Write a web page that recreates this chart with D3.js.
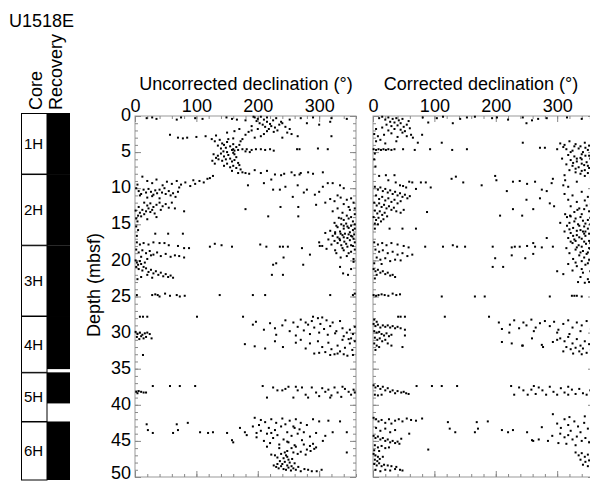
<!DOCTYPE html>
<html><head><meta charset="utf-8">
<script src="https://cdn.jsdelivr.net/npm/d3@7"></script>
<style>body{margin:0;background:#fff}svg{display:block}text{font-family:"Liberation Sans",Arial,sans-serif}</style>
</head><body><svg id="c" width="590" height="483"></svg>
<script>
const holeName = "U1518E";
const coreNames = ["1H","2H","3H","4H","5H","6H"];
const coreTop = [0, 8.45, 18.3, 28.1, 35.9, 42.7];
const coreBottom = [8.45, 18.3, 28.1, 35.9, 42.7, 50.8];
const recoveryTop = [0, 8.45, 18.3, 28.1, 35.9, 42.7];
const recoveryBottom = [8.45, 18.3, 28.1, 35.45, 40.2, 50.8];
const decTicks = [0,100,200,300];
const depthTicks = [0,5,10,15,20,25,30,35,40,45,50];

// [declination, depth]
const uncorrected = [
[19,0.3],[35,0.4],[68,0.5],[75,0.2],[98,0.3],[149,0.2],[158,0.4],[166,0.5],[180,0.6],[193,0.1],[215,0.2],[252,0.5],[270,0.3],[290,0.2],[320,0.3],[345,0.4],[28,0.2],[110,0.4],
[195,0.2],[200,0.4],[205,0.1],[198,0.7],[210,0.5],[215,0.8],[203,1.0],[208,1.2],[220,1.1],[225,0.6],[230,0.3],[212,1.5],[218,1.8],[222,1.4],[228,1.6],[235,1.2],[240,1.0],[232,2.0],[226,2.2],[215,2.1],[245,1.5],[238,0.8],[200,1.8],[190,1.4],[248,2.3],[252,1.8],[210,2.5],
[150,2.3],[162,2.1],[170,1.8],[180,2.6],[185,2.2],[195,3.0],[205,2.8],[175,3.2],[160,3.1],[240,3.0],[265,2.8],[280,1.0],[300,1.2],[318,0.8],[320,2.8],[255,2.5],[190,2.0],
[57,2.6],[70,3.0],[78,3.1],[85,3.0],[100,2.9],[115,2.8],[125,3.2],[132,2.7],
[130,3.5],[138,3.3],[142,3.8],[145,4.0],[150,3.6],[155,4.2],[148,4.4],[160,3.9],[165,4.3],[140,4.5],[135,4.1],[158,4.7],[170,4.0],[172,3.5],[152,3.2],[162,4.8],[144,4.9],
[160,4.6],[168,4.7],[175,4.6],[182,4.6],[190,4.7],[197,4.6],[205,4.6],[212,4.7],[220,4.6],[226,4.8],[264,4.6],[268,4.6],[298,4.5],[314,4.6],[180,4.9],[187,5.0],
[128,5.3],[132,5.8],[135,5.5],[140,5.2],[145,5.6],[148,6.0],[152,5.4],[155,5.9],[158,6.3],[162,6.1],[165,5.7],[168,6.5],[150,6.6],[142,6.2],[136,6.0],[126,6.2],[130,6.6],[160,6.9],[165,7.2],[170,6.8],[172,7.4],[158,7.6],[175,7.8],[168,7.9],[150,5.0],[160,5.1],[145,6.9],[155,7.1],[162,5.3],
[180,7.9],[186,8.0],[195,7.5],[205,7.9],[215,7.6],[222,8.8],[228,8.1],[238,8.2],[243,8.0],[255,7.8],[260,8.2],[268,8.1],[270,7.9],[282,7.8],[290,8.0],[306,7.8],
[12,8.4],[20,9.0],[28,9.3],[35,8.8],[45,9.6],[52,9.1],[60,9.4],[68,9.0],[75,9.5],[82,9.2],[90,9.7],[98,9.4],[105,9.0],[112,9.2],[118,8.7],[122,8.6],[127,8.3],[95,8.9],
[184,9.6],[225,10.2],[236,10.2],[257,11.2],[265,9.6],[280,10.2],[293,10.9],[306,9.8],[314,9.3],[322,9.3],[334,9.6],[340,10.0],[210,9.3],[245,9.8],[275,10.6],[300,10.5],[330,11.0],
[2,10.0],[6,10.4],[10,10.8],[14,10.2],[18,10.6],[22,10.1],[26,10.5],[30,10.9],[33,10.3],[36,10.7],[40,10.2],[44,10.6],[48,10.0],[50,10.8],[55,10.4],[58,11.0],[62,10.7],[66,11.2],[70,10.5],[20,11.3],[28,11.1],[40,11.4],[8,11.0],[72,9.9],[4,9.5],
[15,12.0],[20,12.4],[25,12.1],[30,12.6],[35,12.3],[40,12.0],[45,12.5],[50,12.2],[55,12.7],[22,12.8],[18,13.2],[12,13.0],[8,13.4],[5,13.8],[2,14.2],[10,13.9],[15,13.6],[25,13.3],[28,13.0],[32,13.5],[4,14.6],[1,13.1],[6,12.6],[60,12.0],[65,12.8],[35,14.0],[20,14.3],[42,13.0],
[217,13.9],[237,12.6],[266,12.6],[266,13.9],[295,12.3],[80,13.2],[310,12.0],[180,12.9],
[318,11.5],[325,11.8],[335,11.3],[345,11.6],[352,11.4],[340,12.2],[348,12.6],[356,12.0],[330,12.8],[322,13.2],[338,13.4],[350,13.0],[358,13.6],[345,13.8],[332,14.1],[340,14.4],[348,14.2],[355,14.6],[325,14.8],[336,15.0],[344,14.9],[352,15.2],[358,15.0],[330,15.4],[340,15.6],[348,15.5],[355,15.8],[318,15.9],[326,16.1],[334,16.0],[342,16.3],[350,16.1],[357,16.4],[322,16.6],[330,16.8],[338,16.5],[346,16.9],[354,16.7],[315,17.1],[325,17.3],[333,17.0],[341,17.4],[350,17.2],[358,17.5],[320,17.8],[336,17.9],[346,18.1],[355,18.0],[312,18.4],[340,18.6],[352,18.8],[328,19.0],[345,19.4],[356,19.8],[335,19.6],[358,12.8],[310,16.2],[300,17.5],[305,18.0],
[336,14.2],[352,14.0],[328,15.2],[346,15.3],[358,15.6],[335,16.3],[348,16.4],[326,16.3],[340,16.8],[356,17.0],[330,17.6],[344,17.7],[352,17.9],[338,18.3],[358,18.5],[326,18.6],[348,19.0],[340,15.2],[352,16.6],[334,17.2],
[2,15.3],[5,15.8],[3,16.6],[33,16.3],[54,16.3],[78,16.3],
[3,17.5],[8,17.8],[14,17.6],[22,17.8],[30,17.5],[40,17.6],[48,17.6],[55,17.9],[70,18.0],[80,18.3],[2,18.5],[6,18.9],[12,18.6],[18,19.0],[24,18.7],[30,19.2],[36,18.9],[42,19.4],[50,19.1],[58,19.5],[65,19.3],[72,19.4],[80,19.6],[10,19.5],[20,19.8],[26,19.3],[88,18.3],
[122,18.1],[141,17.9],[158,18.1],[204,17.8],[214,18.1],[236,18.1],[241,18.1],[249,18.1],[272,18.3],[285,19.2],[301,18.0],[130,17.7],[242,19.6],[230,20.4],
[1,20.0],[3,20.3],[5,20.6],[8,20.1],[2,20.9],[6,21.2],[10,20.5],[14,20.9],[12,21.4],[18,21.1],[22,21.6],[26,21.3],[30,21.8],[34,21.5],[38,22.0],[42,21.7],[46,22.2],[50,21.9],[54,22.3],[58,22.1],[62,22.4],[20,22.0],[10,22.3],[4,22.6],[28,22.4],[16,20.3],
[225,20.6],[241,22.0],[223,22.0],[274,20.6],[334,20.9],[339,21.8],[347,22.0],[356,20.2],[352,21.2],
[3,24.8],[28,24.8],[33,24.7],[37,24.8],[49,24.6],[57,24.9],[68,24.8],[73,25.0],[81,24.9],[138,24.8],[192,24.8],[212,24.8],[318,24.8],[355,24.8],[40,25.0],[358,24.6],
[8,27.8],[13,27.8],[20,27.8],[101,27.8],[176,27.8],
[192,28.9],[197,28.5],[210,29.6],[220,28.7],[228,29.4],[240,29.0],[245,28.3],[252,29.8],[258,28.6],[265,29.2],[270,28.2],[275,29.7],[282,28.9],[288,28.4],[292,29.3],[298,28.0],[302,28.8],[308,29.5],[312,28.3],[318,29.1],[322,28.6],[328,29.8],[334,28.4],[338,29.4],[345,30.0],[350,29.6],[355,30.2],[358,29.2],[326,30.1],[314,30.3],[300,30.0],[285,30.2],[262,30.4],[230,30.3],[305,27.9],[290,27.8],[278,28.6],[340,30.5],[352,30.8],
[1,29.9],[4,30.2],[8,30.0],[12,30.3],[16,30.1],[20,30.0],[24,30.2],[3,30.6],[7,30.9],[14,30.8],[27,30.8],[10,30.5],[18,30.6],
[179,31.6],[195,31.9],[212,32.2],[228,31.2],[241,32.0],
[262,31.4],[270,31.0],[278,32.2],[285,31.5],[292,32.9],[298,31.2],[305,32.0],[310,32.7],[315,31.4],[320,32.3],[325,33.0],[330,31.8],[334,32.6],[338,31.0],[342,32.1],[346,33.2],[350,31.5],[354,32.4],[358,31.2],[340,33.0],[355,33.1],[348,30.9],[318,33.1],[300,32.8],[330,32.9],[13,33.1],
[29,37.4],[57,37.4],[73,37.4],[98,37.4],[2,38.2],[6,38.1],[10,38.2],[14,38.3],[18,38.3],[4,38.4],
[208,37.4],[215,39.0],[225,37.6],[232,38.0],[240,38.0],[245,37.8],[250,37.5],[258,39.0],[265,38.0],[272,37.6],[278,38.6],[282,39.0],[288,37.6],[295,38.3],[300,38.8],[305,37.7],[310,38.2],[315,37.9],[320,38.7],[325,37.6],[330,38.3],[336,38.9],[342,37.8],[348,38.2],[352,38.6],[356,37.9],[358,38.3],[318,39.0],[262,37.5],[338,37.5],
[19,42.7],[21,43.5],[29,43.9],[62,43.9],[68,42.7],[70,43.5],[86,42.5],[106,43.8],[119,43.9],[127,43.8],[150,43.9],[171,43.2],[158,44.9],[160,45.2],[179,43.8],[182,44.2],[195,41.8],
[192,43.0],[198,44.5],[202,42.8],[205,43.6],[210,45.0],[212,42.4],[215,44.0],[218,43.2],[220,45.3],[222,42.0],[225,44.6],[228,43.5],[230,42.5],[232,44.2],[235,45.5],[238,43.0],[240,41.9],[242,44.8],[245,42.7],[248,43.8],[250,45.2],[252,42.2],[255,44.3],[258,43.0],[260,45.6],[262,42.0],[265,44.0],[268,43.4],[270,42.5],[272,44.9],[275,43.8],[280,42.8],[285,44.4],[290,42.0],[295,43.9],[300,42.3],[215,45.8],[235,46.0],[205,42.1],[198,43.9],[222,43.9],[260,43.2],[248,45.1],
[306,45.0],[322,43.8],[334,42.3],[345,43.8],[345,46.6],[315,42.2],[310,44.3],
[248,46.4],[255,46.0],[262,45.8],[270,46.5],[275,45.5],[280,46.2],[285,45.7],[290,45.4],[295,45.9],[265,46.8],[278,46.9],[258,46.6],[286,46.4],[292,46.1],
[222,46.9],[228,47.0],[232,47.3],[238,46.8],[242,47.4],[246,47.0],[250,47.6],[236,47.8],[240,48.2],[244,47.9],[248,48.4],[252,48.0],[256,47.5],[260,48.1],[226,48.4],[230,48.6],[234,48.8],[238,48.5],[242,48.9],[246,49.0],[250,48.7],[254,49.1],[258,48.8],[262,49.0],[266,48.6],[270,49.2],[276,48.9],[282,49.0],[288,49.2],[296,49.2],[304,49.0],[244,46.6],[232,48.2],[248,47.2],[255,48.5]
];

const corrected = [
[10,0.3],[15,0.1],[20,0.5],[25,0.2],[28,0.8],[32,0.4],[35,0.9],[38,0.3],[42,0.6],[45,1.0],[48,0.4],[22,1.2],[30,1.4],[40,1.3],[50,1.5],[55,1.2],[35,1.8],[45,1.9],[52,2.1],[60,1.7],[25,2.0],[15,1.6],[5,1.8],[2,2.5],[8,2.8],[18,2.6],[30,2.4],[40,2.9],[62,2.6],[65,3.0],[12,3.3],[55,2.8],[48,2.3],[58,0.7],
[81,0.2],[104,0.3],[114,0.1],[142,0.4],[153,0.2],[166,0.1],[194,0.3],[202,0.2],[220,0.5],[244,0.2],[259,0.6],[269,0.4],[283,0.3],[316,0.2],[340,0.4],[355,0.3],[90,0.9],[130,1.0],[250,1.0],
[80,2.6],[112,3.7],[73,3.7],[5,3.5],[20,3.8],[38,3.5],[244,3.7],[272,4.4],[280,4.4],[300,4.6],
[305,3.8],[312,4.0],[320,3.5],[330,3.9],[338,4.2],[345,3.7],[352,4.1],[358,3.4],[315,4.6],[325,4.8],[335,4.5],[342,5.0],[350,4.7],[356,5.2],[318,5.4],[328,5.6],[338,5.8],[346,5.5],[354,5.9],[322,6.1],[332,6.3],[340,6.0],[348,6.4],[356,6.2],[315,6.7],[325,6.9],[335,7.1],[344,6.8],[352,7.2],[358,7.0],[320,7.5],[330,7.8],[340,7.6],[350,7.9],[312,8.2],[345,8.3],[355,8.5],[359,6.6],[308,5.9],
[310,4.3],[328,4.2],[346,4.4],[322,5.0],[340,5.3],[352,5.5],[332,5.9],[358,5.8],[326,6.5],[340,6.6],[350,6.9],[330,7.3],[345,7.5],[356,7.7],[338,8.0],
[1,4.6],[5,4.7],[9,4.6],[13,4.7],[17,4.6],[21,4.7],[25,4.6],[30,4.7],[35,4.6],[49,4.6],[68,4.7],[93,4.6],[129,4.7],[153,4.6],[3,5.2],[2,6.0],[4,7.0],
[10,8.3],[21,8.2],[25,8.9],[35,8.2],[37,9.2],[44,9.6],[49,9.7],[54,9.9],[59,9.1],[64,9.2],[70,10.1],[78,9.2],[86,9.2],[94,9.9],[128,8.7],[135,8.4],[147,9.2],
[177,9.6],[199,8.3],[201,8.9],[218,10.4],[228,9.1],[239,9.0],[251,9.4],[264,9.1],[275,10.2],[283,10.4],[291,9.3],[293,8.7],[310,9.6],[313,8.9],[318,9.8],[332,9.1],
[3,9.8],[8,10.2],[12,9.9],[16,10.4],[20,10.1],[24,10.6],[28,10.3],[32,10.8],[36,10.5],[40,11.0],[44,10.7],[48,11.2],[52,10.9],[56,11.4],[60,11.1],[5,11.0],[10,11.5],[15,11.2],[20,11.7],[25,11.4],[30,11.9],[35,11.6],[40,12.1],[45,11.8],[2,12.0],[6,12.4],[10,12.1],[14,12.6],[18,12.3],[22,12.8],[26,12.5],[30,13.0],[34,12.7],[38,13.2],[3,13.1],[7,13.5],[11,13.2],[15,13.7],[19,13.4],[23,13.9],[1,14.0],[5,14.4],[9,14.1],[13,14.6],[17,14.3],[3,14.9],[8,15.0],[50,13.0],[45,13.4],[88,13.3],
[250,11.6],[272,11.4],[288,12.1],[207,13.8],[228,12.9],[243,13.8],[261,12.9],[305,14.8],[313,13.6],[321,13.8],[295,12.5],
[312,10.8],[325,11.0],[340,10.5],[350,11.2],[358,10.9],[318,11.6],[332,11.9],[345,11.7],[355,12.2],[322,12.5],[336,12.8],[348,12.4],[358,13.0],[328,13.3],[340,13.6],[352,13.2],[316,14.0],[330,14.2],[342,14.5],[354,14.1],[320,14.8],[334,15.0],[346,14.9],[358,15.3],[326,15.5],[338,15.8],[350,15.6],[312,16.0],[322,16.2],[332,16.5],[344,16.3],[356,16.6],[318,16.9],[328,17.1],[340,17.0],[352,17.3],[325,17.6],[335,17.9],[347,17.7],[358,18.0],[315,18.3],[330,18.5],[342,18.7],[354,18.4],[320,19.0],[336,19.3],[348,19.1],[358,19.5],[326,19.8],[340,20.1],[352,19.9],[318,20.5],[332,20.8],[346,20.6],[356,21.0],[325,21.4],[342,21.7],[354,21.5],[338,22.3],[350,22.6],[358,22.0],[300,21.5],[310,21.9],[334,23.0],[345,23.1],[352,23.0],[336,15.2],[346,16.0],[330,17.3],[340,18.1],[350,18.9],[326,16.6],
[322,13.9],[338,14.0],[350,14.4],[356,13.8],[328,14.6],[344,15.3],[354,15.0],[320,15.7],[332,15.9],[342,16.0],[352,16.3],[358,16.0],[336,16.8],[346,16.6],[322,17.4],[344,17.4],[354,17.6],[332,18.2],[352,18.3],[338,18.9],[358,18.8],[344,19.6],[330,20.3],[350,20.4],[359,17.0],[359,15.6],[340,21.2],[333,13.0],[344,12.9],[316,15.2],
[3,15.6],[27,15.6],[48,15.6],[70,15.6],
[2,17.5],[8,17.8],[15,17.6],[22,17.9],[30,17.6],[40,17.8],[50,18.0],[58,18.2],[4,18.5],[10,18.8],[16,18.6],[24,19.0],[32,18.8],[40,19.2],[48,19.0],[56,19.4],[64,19.2],[6,19.6],[12,19.9],[20,19.7],[28,20.1],[36,19.9],[2,20.4],[14,20.5],[45,20.0],
[85,18.1],[114,18.1],[130,17.9],[137,18.1],[150,18.1],[195,18.1],[226,18.2],[231,18.1],[239,18.1],[251,18.0],[264,18.1],[275,18.2],[293,18.1],[199,19.7],[195,20.9],[212,20.9],[226,19.3],[248,19.7],[261,19.1],[283,16.9],[261,17.6],
[1,21.2],[4,21.5],[8,21.3],[12,21.7],[16,21.5],[20,21.9],[24,21.7],[28,22.1],[32,22.0],[36,22.3],[6,22.0],[3,22.5],
[1,24.8],[5,24.9],[9,24.8],[14,24.7],[19,24.8],[25,24.9],[32,24.6],[38,24.8],[44,24.7],[112,25.0],[166,25.0],[182,25.0],[288,25.0],[324,24.9],[328,24.9],[332,24.9],[340,25.0],
[41,27.8],[45,27.8],[52,27.8],[117,27.8],[189,27.8],[2,28.2],[6,28.5],
[223,28.9],[230,28.3],[238,29.4],[245,28.6],[250,29.0],[258,28.2],[265,29.3],[272,28.7],[280,28.4],[288,29.1],[295,28.5],[302,29.6],[310,28.8],[318,28.3],[325,29.3],[332,28.6],[340,29.0],[348,28.4],[355,29.5],[358,28.8],[262,29.8],[300,30.0],[320,30.2],[338,29.8],[205,28.6],[210,29.5],[222,30.0],
[1,28.8],[4,29.1],[8,28.9],[12,29.3],[16,29.0],[20,29.2],[24,29.0],[28,29.3],[32,29.1],[36,29.4],[40,29.2],[45,29.4],[52,29.6],[2,29.8],[6,30.0],[10,29.9],[14,30.2],[18,30.4],[22,30.1],[26,30.5],[30,30.3],[3,30.7],[7,31.0],[11,30.8],[15,31.2],[20,31.0],[2,31.5],[6,31.8],[10,32.0],[24,31.5],[30,31.8],[48,32.0],[4,32.4],[52,30.4],
[210,31.3],[226,31.5],[243,31.8],[244,31.8],[259,30.8],[275,31.7],[277,32.0],[293,31.3],[300,31.0],
[305,30.8],[312,31.2],[318,30.6],[325,31.5],[332,30.9],[338,31.8],[345,31.2],[352,31.6],[358,31.0],[315,32.0],[322,32.3],[330,32.1],[336,32.6],[342,32.2],[348,32.8],[355,32.4],[310,32.6],[326,32.9],[340,33.0],[358,32.1],
[71,37.4],[96,37.4],[112,37.4],[137,37.4],[1,37.3],[4,37.6],[8,37.4],[12,37.8],[16,37.5],[20,38.0],[24,37.7],[28,38.2],[32,38.0],[36,38.4],[40,38.1],[46,38.3],[50,38.2],[54,38.4],[58,38.5],[3,38.6],[8,38.7],[14,38.6],
[225,37.4],[230,38.6],[238,37.6],[245,38.0],[252,38.6],[258,37.9],[265,38.5],[270,37.6],[276,38.0],[282,38.6],[288,37.5],[294,38.2],[300,38.6],[306,37.7],[312,38.3],[318,38.6],[324,37.9],[330,38.5],[336,37.8],[342,38.4],[348,38.6],[354,38.0],[358,38.5],[262,37.4],[318,37.5],
[1,41.8],[5,42.0],[9,42.3],[14,42.1],[20,42.5],[26,42.0],[30,42.6],[36,42.2],[42,42.0],[48,42.3],[55,41.9],[62,42.1],[70,42.2],[80,41.9],[5,43.2],[12,43.6],[20,43.3],[28,43.8],[36,43.5],[46,44.7],[59,44.0],[90,46.2],
[122,42.4],[125,43.3],[134,43.8],[166,43.8],[169,42.4],[171,43.3],[187,42.3],[210,43.5],[220,43.8],[228,43.5],[251,43.8],[259,44.9],[261,45.0],[275,43.1],[293,41.3],[270,44.8],[285,45.0],[292,44.3],
[300,42.6],[306,43.2],[312,42.0],[318,42.8],[322,43.6],[328,42.3],[334,43.0],[338,43.8],[344,42.5],[350,43.3],[356,42.1],[358,43.9],[305,44.0],[312,44.5],[318,44.2],[325,44.8],[332,44.4],[340,45.0],[346,44.6],[352,45.2],[358,44.8],[302,45.3],[315,45.4],[330,45.6],[345,41.6],[320,41.7],
[1,44.3],[4,44.6],[8,44.4],[12,44.8],[16,44.6],[20,45.0],[24,44.8],[28,45.2],[32,45.0],[36,45.3],[40,45.1],[43,45.4],[3,45.6],[8,45.9],[14,45.7],[20,46.0],[26,45.9],[2,46.3],[10,46.4],
[1,46.8],[4,47.0],[8,47.2],[3,47.6],[7,47.8],[11,47.5],[2,48.2],[6,48.4],[10,48.1],[14,48.5],[18,48.3],[24,48.4],[30,48.5],[38,48.6],[44,49.0],[48,49.1],[4,49.0],[12,49.2],[20,49.0],[28,49.1],[36,48.9],[16,47.2],
[330,46.6],[335,47.0],[340,46.7],[345,47.2],[350,46.9],[355,47.4],[358,47.0],[338,47.6],[346,47.9],[352,47.7],[358,48.2],[342,48.3],[350,48.5],[356,48.6]
];

const svg = d3.select("#c");
const FS = 18;

// header
svg.append("text").attr("x",9).attr("y",27).attr("font-size",FS).text(holeName);
svg.append("text").attr("transform","translate(42,110) rotate(-90)").attr("font-size",FS).text("Core");
svg.append("text").attr("transform","translate(62,110) rotate(-90)").attr("font-size",FS).text("Recovery");

// core column
const yCore = d3.scaleLinear().domain([0,50.8]).range([113,480]);
const cores = coreNames.map((n,i)=>({n, t:coreTop[i], b:coreBottom[i], rt:recoveryTop[i], rb:recoveryBottom[i]}));
svg.selectAll(".rec").data(cores).join("rect")
  .attr("x",47).attr("width",23)
  .attr("y",d=>yCore(d.rt)).attr("height",d=>yCore(d.rb)-yCore(d.rt)).attr("fill","#000");
svg.selectAll(".core").data(cores).join("rect")
  .attr("x",21.5).attr("width",25.5)
  .attr("y",d=>yCore(d.t)+0.5).attr("height",d=>yCore(d.b)-yCore(d.t)-0.5)
  .attr("fill","#fff").attr("stroke","#000").attr("stroke-width",1);
svg.selectAll(".cl").data(cores).join("text")
  .attr("x",24).attr("y",d=>(yCore(d.t)+yCore(d.b))/2).attr("dy","0.36em")
  .attr("font-size",15).text(d=>d.n);

// panels
const y = d3.scaleLinear().domain([0,50]).range([116,477]);
function panel(x0, x1, data, title, titleX, showY){
  const x = d3.scaleLinear().domain([0,360]).range([x0,x1]);
  const g = svg.append("g");
  g.append("rect").attr("x",x0).attr("y",116).attr("width",x1-x0).attr("height",361)
    .attr("fill","#fff").attr("stroke","#999").attr("stroke-width",1);
  const minorX = d3.range(0,361,20), minorY = d3.range(0,51,1);
  const style = s => { s.select(".domain").remove(); s.selectAll("line").attr("stroke","#888"); s.selectAll("text").attr("font-size",FS).attr("font-family","Liberation Sans, Arial, sans-serif").attr("fill","#000"); };
  g.append("g").attr("transform","translate(0,116)").call(d3.axisTop(x).tickValues(minorX).tickSize(-3).tickFormat("")).call(style);
  g.append("g").attr("transform","translate(0,116)").call(d3.axisTop(x).tickValues(decTicks).tickSize(-6).tickPadding(4).tickFormat(d3.format("d"))).call(style);
  g.append("g").attr("transform","translate(0,477)").call(d3.axisBottom(x).tickValues(minorX).tickSize(-3).tickFormat("")).call(style);
  g.append("g").attr("transform","translate(0,477)").call(d3.axisBottom(x).tickValues(decTicks).tickSize(-6).tickFormat("")).call(style);
  g.append("g").attr("transform",`translate(${x0},0)`).call(d3.axisLeft(y).tickValues(minorY).tickSize(-3).tickFormat("")).call(style);
  const ly = g.append("g").attr("transform",`translate(${x0},0)`).call(d3.axisLeft(y).tickValues(depthTicks).tickSize(-6).tickPadding(4).tickFormat(showY?d3.format("d"):"")).call(style);
  ly.selectAll("text").attr("dy",d=>d===50?"0.1em":"0.26em");
  g.append("g").attr("transform",`translate(${x1},0)`).call(d3.axisRight(y).tickValues(minorY).tickSize(-3).tickFormat("")).call(style);
  g.append("g").attr("transform",`translate(${x1},0)`).call(d3.axisRight(y).tickValues(depthTicks).tickSize(-6).tickFormat("")).call(style);
  g.selectAll(".pt").data(data).join("rect")
    .attr("x",d=>x(d[0])-1).attr("y",d=>y(d[1])-1).attr("width",2).attr("height",2).attr("fill","#000");
  svg.append("text").attr("x",titleX).attr("y",90).attr("text-anchor","middle").attr("font-size",FS).text(title);
}
panel(135, 356, uncorrected, "Uncorrected declination (°)", 246, true);
panel(373, 594, corrected, "Corrected declination (°)", 481, false);

svg.append("text").attr("transform","translate(100,285) rotate(-90)").attr("text-anchor","middle").attr("font-size",FS).text("Depth (mbsf)");
</script></body></html>
